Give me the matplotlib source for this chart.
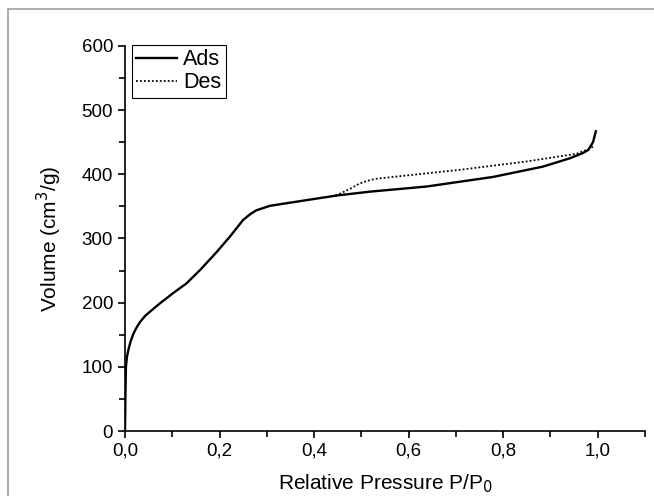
import matplotlib.pyplot as plt
from matplotlib.patches import Rectangle
from matplotlib.ticker import MultipleLocator

plt.rcParams['font.family'] = ['Liberation Sans', 'DejaVu Sans']

# adsorption branch
p_ads = [0.0, 0.001, 0.002, 0.004, 0.007, 0.012, 0.018, 0.025, 0.032, 0.042, 0.053,
         0.074, 0.102, 0.130, 0.159, 0.194, 0.222, 0.250, 0.265, 0.278, 0.307,
         0.377, 0.448, 0.518, 0.638, 0.779, 0.884, 0.941, 0.968, 0.980, 0.990, 0.996]
v_ads = [0, 60, 100, 115, 126, 140, 152, 162, 170, 179, 186,
         199, 215, 230, 251, 279, 303, 329, 338, 344, 351,
         359, 367, 373, 381, 396, 412, 425, 433, 438, 450, 467]

# desorption branch
p_des = [0.990, 0.976, 0.955, 0.849, 0.708, 0.567, 0.530, 0.518, 0.497, 0.475, 0.455, 0.440]
v_des = [443, 438, 432, 420, 407, 396, 393, 391, 386, 377, 370, 366]

fig = plt.figure(figsize=(6.54, 4.96), dpi=100)
ax = fig.add_axes([125/654, 1-431/496, 520/654, 385/496])

fig.patches.append(Rectangle((8/654, -0.1), 1.1, 1-9/496+0.1, transform=fig.transFigure,
                             fill=False, edgecolor='#a0a0a0', linewidth=1.2))

ax.plot(p_ads, v_ads, color='black', lw=1.7, label='Ads')
ax.plot(p_des, v_des, color='black', lw=1.3, ls=(0, (1, 1.2)), label='Des')

ax.set_xlim(0, 1.1)
ax.set_ylim(0, 600)
ax.spines['top'].set_visible(False)
ax.spines['right'].set_visible(False)
for s in ('left', 'bottom'):
    ax.spines[s].set_linewidth(1.2)

ax.xaxis.set_major_locator(MultipleLocator(0.2))
ax.xaxis.set_minor_locator(MultipleLocator(0.1))
ax.yaxis.set_major_locator(MultipleLocator(100))
ax.yaxis.set_minor_locator(MultipleLocator(50))
ax.xaxis.set_major_formatter(lambda v, pos: f'{v:.1f}'.replace('.', ','))
ax.tick_params(which='major', direction='out', length=5, width=1.2, labelsize=13.5)
ax.tick_params(which='minor', direction='out', length=4, width=1.2)

ax.set_xlabel('Relative Pressure P/P$_0$', fontsize=15, labelpad=9)
ax.set_ylabel('Volume (cm$^3$/g)', fontsize=15, labelpad=13)

leg = ax.legend(loc='upper left', bbox_to_anchor=(0.013, 1.003), fontsize=15.5, fancybox=False,
                edgecolor='black', framealpha=1, borderpad=0.2, handlelength=1.9,
                handletextpad=0.3, labelspacing=0.1, borderaxespad=0)
leg.get_frame().set_linewidth(0.8)

fig.savefig('out.png', dpi=100)
